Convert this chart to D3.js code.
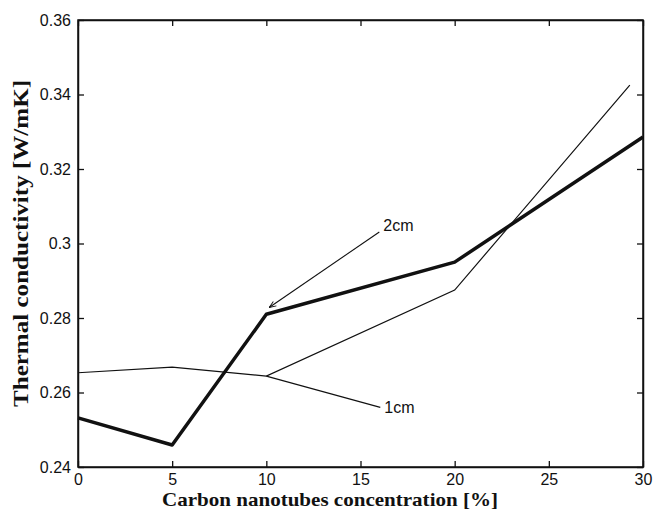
<!DOCTYPE html>
<meta charset="utf-8">
<title>Thermal conductivity</title>
<script src="https://cdn.jsdelivr.net/npm/d3@7"></script>
<style>
  body { margin: 0; background: #fff; }
  .tick text { font-family: "Liberation Sans", Arial, sans-serif; font-size: 16px; fill: #111; }
</style>
<body>
<div id="my_dataviz"></div>
<script>

// data
var concThick = [0, 5, 10, 20, 30];
var condThick = [0.2532, 0.2459, 0.2810, 0.2950, 0.3286];

var concThin = [0, 5, 10, 20, 29.3];
var condThin = [0.2653, 0.2668, 0.2644, 0.2875, 0.3425];

var xTicks = [0, 5, 10, 15, 20, 25, 30];
var yTicks = [0.24, 0.26, 0.28, 0.30, 0.32, 0.34, 0.36];
var yTickLabels = ["0.24", "0.26", "0.28", "0.3", "0.32", "0.34", "0.36"];

// annotation leaders (data units)
var label2cm = {text: "2cm", from: [10.15, 0.2828], to: [16.0, 0.3031]};
var label1cm = {text: "1cm", from: [10.0, 0.2644], to: [16.05, 0.2560]};

// set the dimensions and margins of the graph
var margin = {top: 20, right: 10, bottom: 43, left: 78},
    width = 653 - margin.left - margin.right,
    height = 510 - margin.top - margin.bottom;

var svg = d3.select("#my_dataviz")
  .append("svg")
    .attr("width", 653)
    .attr("height", 510)
  .append("g")
    .attr("transform", "translate(" + margin.left + "," + margin.top + ")");

var x = d3.scaleLinear().domain([0, 30]).range([0, width]);
var y = d3.scaleLinear().domain([0.24, 0.36]).range([height, 0]);

// box
svg.append("rect")
  .attr("width", width).attr("height", height)
  .attr("fill", "none").attr("stroke", "#111").attr("stroke-width", 1.5);

// axes, matlab style ticks pointing inward
svg.append("g")
  .attr("transform", "translate(0," + height + ")")
  .call(d3.axisBottom(x).tickValues(xTicks).tickSizeInner(-6).tickSizeOuter(0).tickPadding(7));
svg.append("g")
  .call(d3.axisLeft(y).tickValues(yTicks).tickSizeInner(-6).tickSizeOuter(0).tickPadding(7)
    .tickFormat(function(d, i) { return yTickLabels[i]; }));
svg.append("g")
  .call(d3.axisTop(x).tickValues(xTicks).tickSizeInner(-6).tickSizeOuter(0).tickFormat(""));
svg.append("g")
  .attr("transform", "translate(" + width + ",0)")
  .call(d3.axisRight(y).tickValues(yTicks).tickSizeInner(-6).tickSizeOuter(0).tickFormat(""));

svg.selectAll(".domain").attr("stroke", "#111").attr("stroke-width", 1.5);
svg.selectAll(".tick line").attr("stroke", "#111").attr("stroke-width", 1.3);

// lines
var line = d3.line()
  .x(function(d) { return x(d[0]); })
  .y(function(d) { return y(d[1]); });

svg.append("path")
  .datum(concThin.map(function(c, i) { return [c, condThin[i]]; }))
  .attr("d", line)
  .attr("fill", "none").attr("stroke", "#111").attr("stroke-width", 1.2);

svg.append("path")
  .datum(concThick.map(function(c, i) { return [c, condThick[i]]; }))
  .attr("d", line)
  .attr("fill", "none").attr("stroke", "#111").attr("stroke-width", 3.5)
  .attr("stroke-linejoin", "round");

// arrow marker for the 2cm leader
svg.append("defs").append("marker")
  .attr("id", "arr")
  .attr("viewBox", "0 0 10 10").attr("refX", 0).attr("refY", 5)
  .attr("markerWidth", 7).attr("markerHeight", 7).attr("orient", "auto")
  .append("path")
    .attr("d", "M9,1.5 L0,5 L9,8.5")
    .attr("fill", "none").attr("stroke", "#111").attr("stroke-width", 1.2);

[label2cm, label1cm].forEach(function(l, i) {
  svg.append("line")
    .attr("x1", x(l.from[0])).attr("y1", y(l.from[1]))
    .attr("x2", x(l.to[0])).attr("y2", y(l.to[1]))
    .attr("stroke", "#111").attr("stroke-width", 1.1)
    .attr("marker-start", i == 0 ? "url(#arr)" : null);
  svg.append("text")
    .attr("x", x(l.to[0]) + 4)
    .attr("y", y(l.to[1]) + (i == 0 ? -7 : 0))
    .attr("dy", "0.35em")
    .style("font-family", "Liberation Sans, Arial, sans-serif")
    .style("font-size", "16px")
    .attr("fill", "#111")
    .text(l.text);
});

// axis titles
svg.append("text")
  .attr("x", 252)
  .attr("y", height + 39)
  .attr("text-anchor", "middle")
  .attr("textLength", 336)
  .attr("lengthAdjust", "spacingAndGlyphs")
  .style("font-family", "Liberation Serif, Times New Roman, serif")
  .style("font-weight", "bold")
  .style("font-size", "19px")
  .attr("fill", "#111")
  .text("Carbon nanotubes concentration [%]");

svg.append("text")
  .attr("transform", "translate(-50," + (height / 2) + ")rotate(-90)")
  .attr("text-anchor", "middle")
  .attr("textLength", 327)
  .attr("lengthAdjust", "spacingAndGlyphs")
  .style("font-family", "Liberation Serif, Times New Roman, serif")
  .style("font-weight", "bold")
  .style("font-size", "21px")
  .attr("fill", "#111")
  .text("Thermal conductivity [W/mK]");

</script>
</body>
